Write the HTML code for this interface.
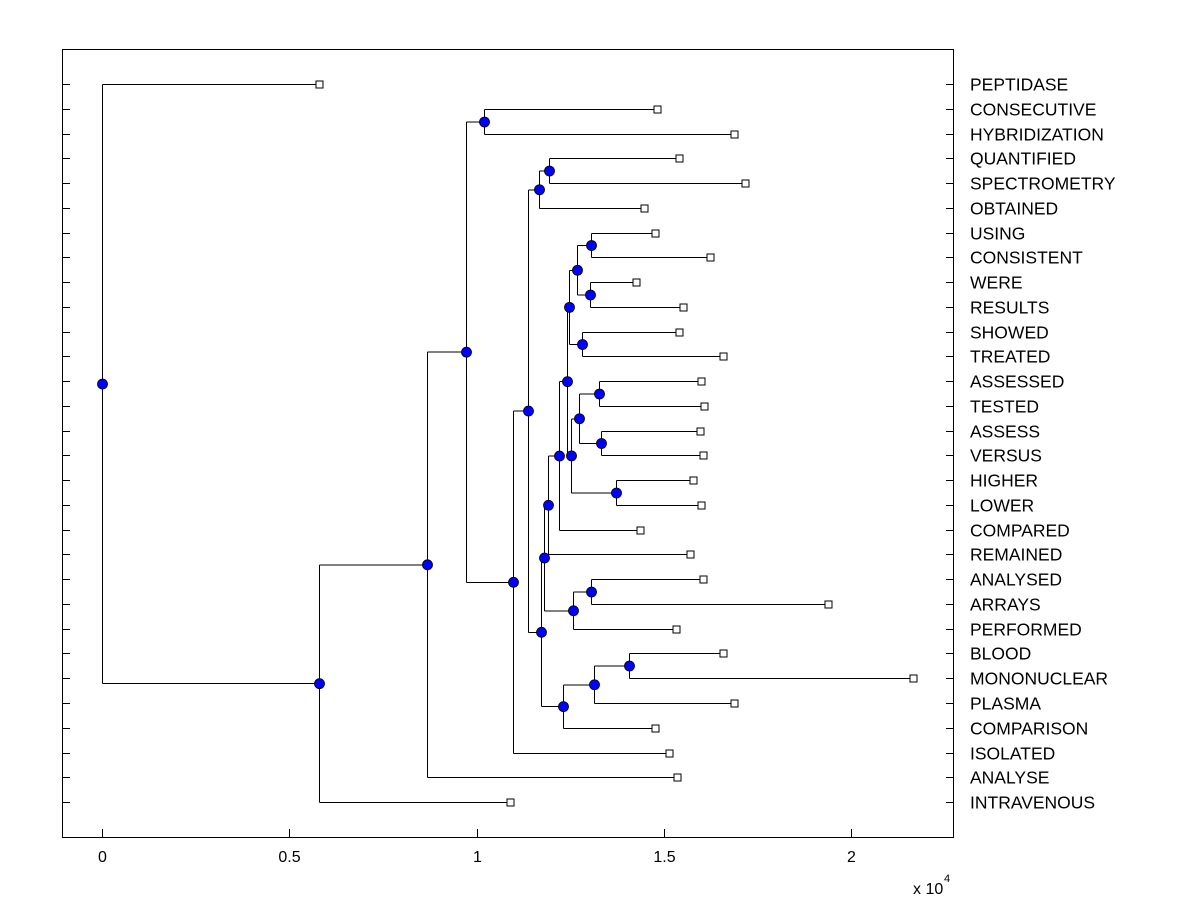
<!DOCTYPE html>
<html><head><style>body{margin:0;background:#fff}svg{display:block}</style></head>
<body>
<svg id="s" width="1200" height="900" xmlns="http://www.w3.org/2000/svg" font-family="Liberation Sans, Arial, sans-serif">
<rect x="0" y="0" width="1200" height="900" fill="#fff"/>
<g id="g"></g>
</svg>
<script>
const names=["PEPTIDASE","CONSECUTIVE","HYBRIDIZATION","QUANTIFIED","SPECTROMETRY","OBTAINED","USING","CONSISTENT","WERE","RESULTS","SHOWED","TREATED","ASSESSED","TESTED","ASSESS","VERSUS","HIGHER","LOWER","COMPARED","REMAINED","ANALYSED","ARRAYS","PERFORMED","BLOOD","MONONUCLEAR","PLASMA","COMPARISON","ISOLATED","ANALYSE","INTRAVENOUS"];
const lx=[319,657,734,679,745,644,655,710,636,683,679,723,701,704,700,703,693,701,640,690,703,828,676,723,913,734,655,669,677,510];
const Y=i=>Math.round(84+i*24.76)+0.5;
let s='';
const L=(x1,y1,x2,y2)=>s+=`<line x1="${x1}" y1="${y1}" x2="${x2}" y2="${y2}" stroke="#000" stroke-width="1" shape-rendering="crispEdges"/>`;
s+=`<rect x="62.5" y="49.5" width="891" height="788" fill="none" stroke="#000" shape-rendering="crispEdges"/>`;
for(let i=0;i<30;i++){const y=Y(i);L(62,y,70,y);L(946,y,954,y);
 s+=`<text x="970" y="${Y(i)+6}" font-size="17.5">${names[i]}</text>`;}
[[102,"0"],[289,"0.5"],[477,"1"],[664,"1.5"],[851,"2"]].forEach(([x,t])=>{L(x+0.5,829,x+0.5,838);s+=`<text x="${x+0.5}" y="862" font-size="16" text-anchor="middle">${t}</text>`});
s+=`<text x="913" y="894" font-size="16">x 10</text><text x="944" y="882" font-size="11">4</text>`;
function l(i){return {x:lx[i]+0.5,y:Y(i),leaf:true}}
function node(x,a,b){return {x:x+0.5,y:(a.y+b.y)/2,a:a,b:b}}
const D=node(484,l(1),l(2));
const I=node(549,l(3),l(4));
const G=node(539,I,l(5));
const T=node(591,l(6),l(7));
const U=node(590,l(8),l(9));
const R=node(577,T,U);
const S=node(582,l(10),l(11));
const P=node(569,R,S);
const X=node(599,l(12),l(13));
const Yn=node(601,l(14),l(15));
const V=node(579,X,Yn);
const W=node(616,l(16),l(17));
const Q=node(571,V,W);
const O=node(567,P,Q);
const Nn=node(559,O,l(18));
const Ln=node(548,Nn,l(19));
const Z=node(591,l(20),l(21));
const M=node(573,Z,l(22));
const J=node(544,Ln,M);
const AB=node(629,l(23),l(24));
const AA=node(594,AB,l(25));
const K=node(563,AA,l(26));
const H=node(541,J,K);
const F=node(528,G,H);
const E=node(513,F,l(27));
const C=node(466,D,E);
const B=node(427,C,l(28));
const A=node(319,B,l(29));
const root=node(102,l(0),A);
let dots='',boxes='';
function draw(n){
 if(n.leaf){boxes+=`<rect x="${n.x-3.5}" y="${n.y-3.5}" width="7" height="7" fill="#fff" stroke="#000" shape-rendering="crispEdges"/>`;return;}
 L(n.x,n.a.y,n.x,n.b.y);L(n.x,n.a.y,n.a.x,n.a.y);L(n.x,n.b.y,n.b.x,n.b.y);
 dots+=`<circle cx="${n.x}" cy="${n.y}" r="5" fill="#0000ff" stroke="#000" stroke-width="0.8"/>`;
 draw(n.a);draw(n.b);
}
draw(root);
s+=boxes+dots;
document.getElementById('g').innerHTML=s;
</script>
</body></html>
